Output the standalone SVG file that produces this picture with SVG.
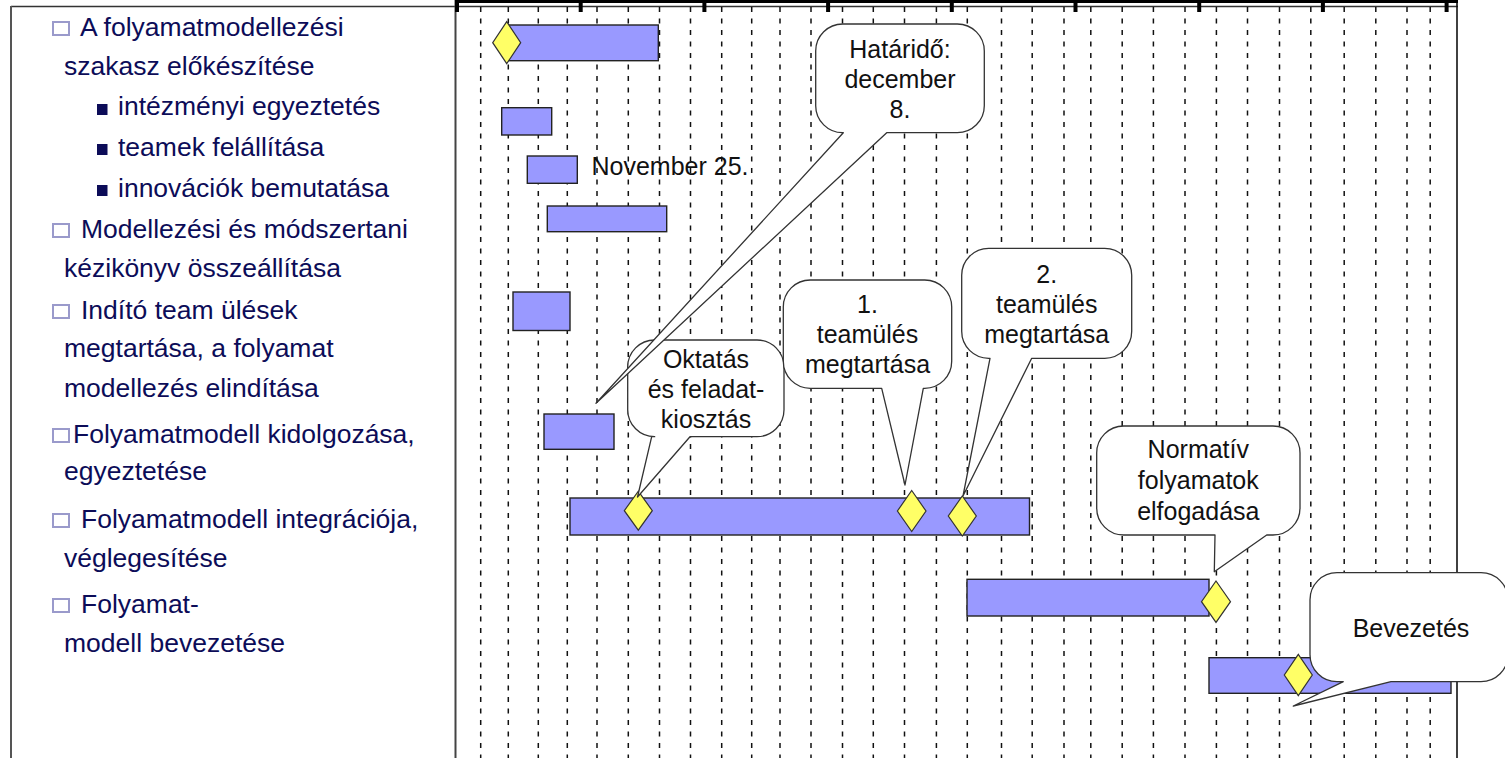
<svg xmlns="http://www.w3.org/2000/svg" width="1505" height="758" viewBox="0 0 1505 758">
  <style>
    .task { font-family: "Liberation Sans", Arial, sans-serif; font-size: 26.5px; fill: #0c0c58; }
    .box { fill: none; stroke: #9a9acb; stroke-width: 2; }
    .dot { fill: #0c0c58; }
    .grid line { stroke: #111; stroke-width: 1.5; stroke-dasharray: 5 6.5; }
    .bar { fill: #9999ff; stroke: #222; stroke-width: 1.4; }
    .ms { fill: #ffff66; stroke: #333; stroke-width: 1.2; }
    .call { fill: #fff; stroke: #333; stroke-width: 1.3; stroke-linejoin: round; }
    .ctext { font-family: "Liberation Sans", Arial, sans-serif; font-size: 25px; fill: #111; text-anchor: middle; }
    .major { fill: #000; }
  </style>
  <rect width="1505" height="758" fill="#fff"/>

  <!-- frames -->
  <g id="frame">
    <line x1="11" y1="6.5" x2="1458" y2="6.5" stroke="#333" stroke-width="1.4"/>
    <line x1="11" y1="6" x2="11" y2="758" stroke="#555" stroke-width="2"/>
    <rect x="455" y="0" width="1003" height="3" fill="#000"/>
    <line x1="455.5" y1="0" x2="455.5" y2="758" stroke="#444" stroke-width="2"/>
    <line x1="1457" y1="3" x2="1457" y2="758" stroke="#111" stroke-width="1.6"/>
  </g>

  <!-- time grid -->
  <g id="grid" class="grid">
    <line x1="480.7" y1="7" x2="480.7" y2="758"/>
    <line x1="508.3" y1="7" x2="508.3" y2="758"/>
    <line x1="538.3" y1="7" x2="538.3" y2="758"/>
    <line x1="567.3" y1="7" x2="567.3" y2="758"/>
    <line x1="597" y1="7" x2="597" y2="758"/>
    <line x1="628.3" y1="7" x2="628.3" y2="758"/>
    <line x1="659.5" y1="7" x2="659.5" y2="758"/>
    <line x1="690.5" y1="7" x2="690.5" y2="758"/>
    <line x1="721.7" y1="7" x2="721.7" y2="758"/>
    <line x1="751.7" y1="7" x2="751.7" y2="758"/>
    <line x1="780" y1="7" x2="780" y2="758"/>
    <line x1="811" y1="7" x2="811" y2="758"/>
    <line x1="842.5" y1="7" x2="842.5" y2="758"/>
    <line x1="873.3" y1="7" x2="873.3" y2="758"/>
    <line x1="904.5" y1="7" x2="904.5" y2="758"/>
    <line x1="936.4" y1="7" x2="936.4" y2="758"/>
    <line x1="967.3" y1="7" x2="967.3" y2="758"/>
    <line x1="1001.5" y1="7" x2="1001.5" y2="758"/>
    <line x1="1032.2" y1="7" x2="1032.2" y2="758"/>
    <line x1="1064" y1="7" x2="1064" y2="758"/>
    <line x1="1090.8" y1="7" x2="1090.8" y2="758"/>
    <line x1="1122.2" y1="7" x2="1122.2" y2="758"/>
    <line x1="1153.4" y1="7" x2="1153.4" y2="758"/>
    <line x1="1185" y1="7" x2="1185" y2="758"/>
    <line x1="1216.4" y1="7" x2="1216.4" y2="758"/>
    <line x1="1247.5" y1="7" x2="1247.5" y2="758"/>
    <line x1="1279.5" y1="7" x2="1279.5" y2="758"/>
    <line x1="1310.8" y1="7" x2="1310.8" y2="758"/>
    <line x1="1344.2" y1="7" x2="1344.2" y2="758"/>
    <line x1="1375.8" y1="7" x2="1375.8" y2="758"/>
    <line x1="1407" y1="7" x2="1407" y2="758"/>
    <line x1="1430.2" y1="7" x2="1430.2" y2="758"/>
  </g>

  <!-- major scale ticks -->
  <g id="ticks" class="major">
    <rect x="455" y="0" width="4" height="12"/>
    <rect x="578.7" y="0" width="4" height="12"/>
    <rect x="702.4" y="0" width="4" height="12"/>
    <rect x="826.1" y="0" width="4" height="12"/>
    <rect x="949.8" y="0" width="4" height="12"/>
    <rect x="1073.5" y="0" width="4" height="12"/>
    <rect x="1197.2" y="0" width="4" height="12"/>
    <rect x="1320.9" y="0" width="4" height="12"/>
    <rect x="1444.6" y="0" width="4" height="12"/>
  </g>

  <!-- task list -->
  <g id="tasks">
    <rect class="box" x="53" y="22" width="16" height="13"/>
    <text class="task" x="80" y="36">A folyamatmodellezési</text>
    <text class="task" x="64" y="75">szakasz előkészítése</text>
    <rect class="dot" x="97" y="104" width="10.5" height="11"/>
    <text class="task" x="118" y="115">intézményi egyeztetés</text>
    <rect class="dot" x="97" y="144" width="10.5" height="11"/>
    <text class="task" x="118" y="156">teamek felállítása</text>
    <rect class="dot" x="97" y="185" width="10.5" height="11"/>
    <text class="task" x="118" y="197">innovációk bemutatása</text>
    <rect class="box" x="53" y="224" width="16" height="13"/>
    <text class="task" x="81" y="238">Modellezési és módszertani</text>
    <text class="task" x="64" y="277">kézikönyv összeállítása</text>
    <rect class="box" x="53" y="305" width="16" height="13"/>
    <text class="task" x="81" y="319">Indító team ülések</text>
    <text class="task" x="64" y="357">megtartása, a folyamat</text>
    <text class="task" x="64" y="397">modellezés elindítása</text>
    <rect class="box" x="53" y="429" width="16" height="13"/>
    <text class="task" x="73" y="443">Folyamatmodell kidolgozása,</text>
    <text class="task" x="64" y="480">egyeztetése</text>
    <rect class="box" x="53" y="514" width="16" height="13"/>
    <text class="task" x="81" y="528">Folyamatmodell integrációja,</text>
    <text class="task" x="64" y="567">véglegesítése</text>
    <rect class="box" x="53" y="599" width="16" height="13"/>
    <text class="task" x="81" y="613">Folyamat-</text>
    <text class="task" x="64" y="652">modell bevezetése</text>
  </g>

  <!-- bars -->
  <g id="bars">
    <rect id="bar-prep" class="bar" x="506.7" y="25" width="151.6" height="35.7"/>
    <rect id="bar-inst" class="bar" x="501.7" y="107.7" width="50" height="27.3"/>
    <rect id="bar-teams" class="bar" x="527.3" y="156" width="50" height="27.3"/>
    <rect id="bar-innov" class="bar" x="547.3" y="206" width="119.4" height="25.7"/>
    <rect id="bar-start" class="bar" x="513" y="292" width="57" height="38.5"/>
    <rect id="bar-draft" class="bar" x="544" y="414" width="70" height="35.3"/>
    <rect id="bar-integr" class="bar" x="570" y="498" width="459.5" height="37"/>
    <rect id="bar-final" class="bar" x="967" y="579.3" width="242" height="36.7"/>
    <rect id="bar-intro" class="bar" x="1209" y="657.7" width="242" height="35.6"/>
  </g>

  <text class="ctext" x="591.5" y="175" style="text-anchor:start" font-size="24">November 25.</text>

  <!-- milestones -->
  <g id="milestones">
    <polygon id="ms-start" class="ms" points="506.7,21.7 520.7,42.7 506.7,63.7 492.7,42.7"/>
    <polygon id="ms-train" class="ms" points="638.3,491.2 652.3,510.7 638.3,530.2 624.3,510.7"/>
    <polygon id="ms-team1" class="ms" points="911.7,490.5 926,511 911.7,531.5 897.4,511"/>
    <polygon id="ms-team2" class="ms" points="962.3,496 976.3,516 962.3,536 948.3,516"/>
    <polygon id="ms-approve" class="ms" points="1216,581 1230.5,601.7 1216,622.4 1201.5,601.7"/>
  </g>

  <!-- callouts -->
  <g id="callout-training">
    <path class="call" d="M654.7 340 H757 A27 27 0 0 1 784 367 V409.7 A27 27 0 0 1 757 436.7 H690 L637.5 497 L651.7 436.7 H654.7 A27 27 0 0 1 627.7 409.7 V367 A27 27 0 0 1 654.7 340 Z"/>
    <text class="ctext" x="706" y="368">Oktatás</text>
    <text class="ctext" x="706" y="398">és feladat-</text>
    <text class="ctext" x="706" y="428">kiosztás</text>
  </g>
  <g id="callout-team1">
    <path class="call" d="M810.3 280 H924.7 A27 27 0 0 1 951.7 307 V361.3 A27 27 0 0 1 924.7 388.3 H923.3 L905 485 L881.7 388.3 H810.3 A27 27 0 0 1 783.3 361.3 V307 A27 27 0 0 1 810.3 280 Z"/>
    <text class="ctext" x="867.5" y="313">1.</text>
    <text class="ctext" x="867.5" y="343">teamülés</text>
    <text class="ctext" x="867.5" y="373">megtartása</text>
  </g>
  <g id="callout-team2">
    <path class="call" d="M988.7 248.3 H1104.7 A27 27 0 0 1 1131.7 275.3 V331.3 A27 27 0 0 1 1104.7 358.3 H1031.7 L963 496 L990 358.3 H988.7 A27 27 0 0 1 961.7 331.3 V275.3 A27 27 0 0 1 988.7 248.3 Z"/>
    <text class="ctext" x="1046.7" y="283">2.</text>
    <text class="ctext" x="1046.7" y="313">teamülés</text>
    <text class="ctext" x="1046.7" y="343">megtartása</text>
  </g>
  <g id="callout-approve">
    <path class="call" d="M1123.7 426 H1273 A27 27 0 0 1 1300 453 V508 A27 27 0 0 1 1273 535 H1266.7 L1214.3 571.7 L1215 535 H1123.7 A27 27 0 0 1 1096.7 508 V453 A27 27 0 0 1 1123.7 426 Z"/>
    <text class="ctext" x="1198.3" y="458">Normatív</text>
    <text class="ctext" x="1198.3" y="489">folyamatok</text>
    <text class="ctext" x="1198.3" y="520">elfogadása</text>
  </g>
  <g id="callout-intro">
    <path class="call" d="M1337 572.7 H1481 A27 27 0 0 1 1508 599.7 V654.7 A27 27 0 0 1 1481 681.7 H1391 L1293.3 706 L1343.3 681.7 H1337 A27 27 0 0 1 1310 654.7 V599.7 A27 27 0 0 1 1337 572.7 Z"/>
    <text class="ctext" x="1411" y="637">Bevezetés</text>
  </g>
  <polygon id="ms-intro" class="ms" points="1298.3,654.3 1312.3,675 1298.3,695.7 1284.3,675"/>
  <g id="callout-deadline">
    <path class="call" d="M843 24 H957.3 A27 27 0 0 1 984.3 51 V105.7 A27 27 0 0 1 957.3 132.7 H886.7 L596 403.3 L843.3 132.7 H843 A27 27 0 0 1 815.7 105.7 V51 A27 27 0 0 1 843 24 Z"/>
    <text class="ctext" x="900" y="58">Határidő:</text>
    <text class="ctext" x="900" y="88">december</text>
    <text class="ctext" x="900" y="118">8.</text>
  </g>
</svg>
